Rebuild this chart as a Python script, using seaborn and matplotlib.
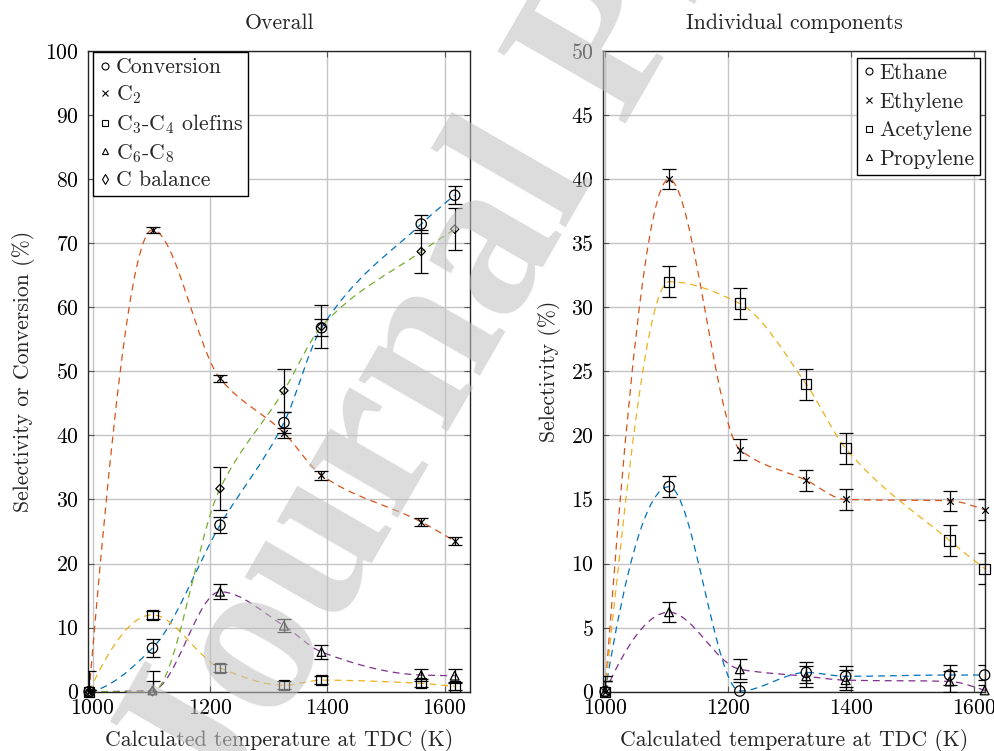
import numpy as np
import matplotlib
matplotlib.use('Agg')
import matplotlib.pyplot as plt
import seaborn as sns
from matplotlib.path import Path
from matplotlib.patches import PathPatch
from matplotlib.lines import Line2D

# --- data ---
x_overall = [994, 1102, 1217, 1326, 1390, 1560, 1617]
conversion = [0.0, 6.8, 26.0, 42.0, 56.8, 73.0, 77.5]
conversion_err = [0.3, 1.4, 1.3, 1.6, 1.3, 1.4, 1.4]
c2 = [0.0, 72.1, 48.9, 40.4, 33.8, 26.5, 23.5]
c2_err = [0.3, 0.5, 0.5, 0.8, 0.7, 0.6, 0.6]
c3c4 = [0.0, 12.0, 3.7, 1.0, 1.8, 1.3, 0.8]
c3c4_err = [0.3, 0.6, 0.6, 0.6, 0.6, 0.6, 0.6]
c6c8 = [0.0, 0.2, 15.6, 10.3, 6.2, 2.6, 2.5]
c6c8_err = [0.3, 1.5, 1.2, 1.0, 1.1, 1.0, 1.0]
cbal = [0.0, 0.0, 31.7, 47.0, 57.0, 68.7, 72.2]
cbal_err = [3.3, 3.3, 3.3, 3.3, 3.3, 3.4, 3.3]

x_indiv = [1000, 1104, 1219, 1327, 1391, 1560, 1617]
ethane = [0.0, 16.0, 0.05, 1.5, 1.2, 1.3, 1.3]
ethane_err = [1.2, 0.8, 0.7, 0.8, 0.8, 0.8, 0.8]
ethylene = [0.0, 40.0, 18.9, 16.5, 15.0, 14.9, 14.2]
ethylene_err = [0.8, 0.8, 0.8, 0.8, 0.8, 0.8, 0.8]
acetylene = [0.0, 32.0, 30.3, 24.0, 19.0, 11.8, 9.6]
acetylene_err = [0.8, 1.2, 1.2, 1.2, 1.2, 1.2, 1.2]
propylene = [0.0, 6.2, 1.75, 1.2, 0.9, 0.8, 0.1]
propylene_err = [0.8, 0.8, 0.8, 0.8, 0.8, 0.8, 0.8]

blue, red, yellow, purple, green = '#0072BD', '#D95319', '#EDB120', '#7E2F8E', '#77AC30'

sns.set_theme(style='whitegrid')
plt.rcParams['font.family'] = ['cmr10', 'DejaVu Serif']
plt.rcParams['mathtext.fontset'] = 'cm'
plt.rcParams['axes.formatter.use_mathtext'] = True
plt.rcParams['axes.unicode_minus'] = False
FS = 15.7


def pchip_slopes(x, y):
    # shape-preserving (Fritsch-Carlson) tangents, like MATLAB's pchip
    h = np.diff(x)
    delta = np.diff(y) / h
    n = len(x)
    d = np.zeros(n)
    for k in range(1, n - 1):
        if delta[k - 1] * delta[k] > 0:
            w1 = 2 * h[k] + h[k - 1]
            w2 = h[k] + 2 * h[k - 1]
            d[k] = (w1 + w2) / (w1 / delta[k - 1] + w2 / delta[k])

    def end(h0, h1, d0, d1):
        s = ((2 * h0 + h1) * d0 - h0 * d1) / (h0 + h1)
        if np.sign(s) != np.sign(d0):
            s = 0.0
        elif np.sign(d0) != np.sign(d1) and abs(s) > abs(3 * d0):
            s = 3 * d0
        return s

    d[0] = end(h[0], h[1], delta[0], delta[1])
    d[-1] = end(h[-1], h[-2], delta[-1], delta[-2])
    return d


def smooth_path(xs, ys):
    # cubic Hermite segments written as bezier curves
    x = np.asarray(xs, float)
    y = np.asarray(ys, float)
    d = pchip_slopes(x, y)
    verts, codes = [(x[0], y[0])], [Path.MOVETO]
    for i in range(len(x) - 1):
        h = x[i + 1] - x[i]
        verts += [(x[i] + h / 3, y[i] + d[i] * h / 3),
                  (x[i + 1] - h / 3, y[i + 1] - d[i + 1] * h / 3),
                  (x[i + 1], y[i + 1])]
        codes += [Path.CURVE4] * 3
    return Path(verts, codes)


def draw_series(ax, xs, ys, err, color, marker, size):
    ax.add_patch(PathPatch(smooth_path(xs, ys), fill=False, edgecolor=color,
                           lw=0.9, linestyle=(0, (5.5, 4)), zorder=2))
    ax.errorbar(xs, ys, yerr=err, fmt='none', ecolor='black', elinewidth=0.9,
                capsize=5, capthick=0.9, zorder=3)
    if marker == 'x':
        sns.scatterplot(x=xs, y=ys, marker='x', s=size, color='black',
                        linewidth=0.9, ax=ax, zorder=4, clip_on=False)
    else:
        sns.scatterplot(x=xs, y=ys, marker=marker, s=size, facecolor='none',
                        edgecolor='black', linewidth=0.9, ax=ax, zorder=4,
                        clip_on=False)


def style_axes(ax, xlim, ylim, yticks):
    ax.set_xlim(*xlim)
    ax.set_ylim(*ylim)
    ax.set_xticks([1000, 1200, 1400, 1600])
    ax.set_yticks(yticks)
    ax.grid(True, color='#c4c4c4', lw=1.0)
    for s in ax.spines.values():
        s.set_visible(True)
        s.set_color('#262626')
        s.set_linewidth(1.0)
    ax.tick_params(direction='in', length=4, width=0.8, colors='#555555',
                   labelcolor='black', labelsize=FS, top=True, right=True,
                   bottom=True, left=True)
    ax.tick_params(axis='x', pad=5)
    ax.tick_params(axis='y', pad=7)
    ax.set_xlabel('Calculated temperature at TDC (K)', fontsize=FS, labelpad=8)


fig = plt.figure(figsize=(9.95, 7.51), dpi=100)
ax1 = fig.add_axes([0.0887, 0.079, 0.3836, 0.853])
ax2 = fig.add_axes([0.6063, 0.079, 0.3836, 0.853])

# Overall
draw_series(ax1, x_overall, conversion, conversion_err, blue, 'o', 55)
draw_series(ax1, x_overall, c2, c2_err, red, 'x', 22)
draw_series(ax1, x_overall, c3c4, c3c4_err, yellow, 's', 55)
draw_series(ax1, x_overall, c6c8, c6c8_err, purple, '^', 40)
draw_series(ax1, x_overall, cbal, cbal_err, green, 'D', 18)
style_axes(ax1, (992.5, 1643), (0, 100), np.arange(0, 101, 10))
ax1.set_ylabel('Selectivity or Conversion (%)', fontsize=FS, labelpad=7)
ax1.set_title('Overall', fontsize=FS, pad=16)

# Individual components
draw_series(ax2, x_indiv, ethane, ethane_err, blue, 'o', 55)
draw_series(ax2, x_indiv, ethylene, ethylene_err, red, 'x', 22)
draw_series(ax2, x_indiv, acetylene, acetylene_err, yellow, 's', 55)
draw_series(ax2, x_indiv, propylene, propylene_err, purple, '^', 40)
style_axes(ax2, (997, 1617.5), (0, 50), np.arange(0, 51, 5))
ax2.set_ylabel('Selectivity (%)', fontsize=FS, labelpad=7)
ax2.set_title('Individual components', fontsize=FS, pad=16)


def legend_handles(labels, markers):
    return [Line2D([], [], ls='none', marker=m, color='black', mfc='none',
                   mew=0.8, ms=5 if m != 'x' else 4.5, label=l)
            for l, m in zip(labels, markers)]


leg_kw = dict(fontsize=FS, frameon=True, fancybox=False, edgecolor='black',
              framealpha=1, handlelength=0.6, handletextpad=0.2,
              borderpad=0.25, borderaxespad=0)
l1 = ax1.legend(handles=legend_handles(
    ['Conversion', 'C$_2$', 'C$_3$-C$_4$ olefins', 'C$_6$-C$_8$', 'C balance'],
    ['o', 'x', 's', '^', 'd']), loc='upper left',
    bbox_to_anchor=(0.012, 0.998), labelspacing=0.28, **leg_kw)
l2 = ax2.legend(handles=legend_handles(
    ['Ethane', 'Ethylene', 'Acetylene', 'Propylene'], ['o', 'x', 's', '^']),
    loc='upper right', bbox_to_anchor=(0.987, 0.989), labelspacing=0.42, **leg_kw)
for lg in (l1, l2):
    lg.get_frame().set_linewidth(1.0)
    lg.set_zorder(10)

# "Journal Pre-proof" watermark laid over the page
fig.text(0.222, -0.100, 'Journal Pre-proof', rotation=60, rotation_mode='anchor',
         ha='left', va='baseline', fontsize=162, color='#c2c2c2', alpha=0.58,
         family='Liberation Serif', weight='bold', zorder=100)

fig.savefig('out.png', dpi=100)
